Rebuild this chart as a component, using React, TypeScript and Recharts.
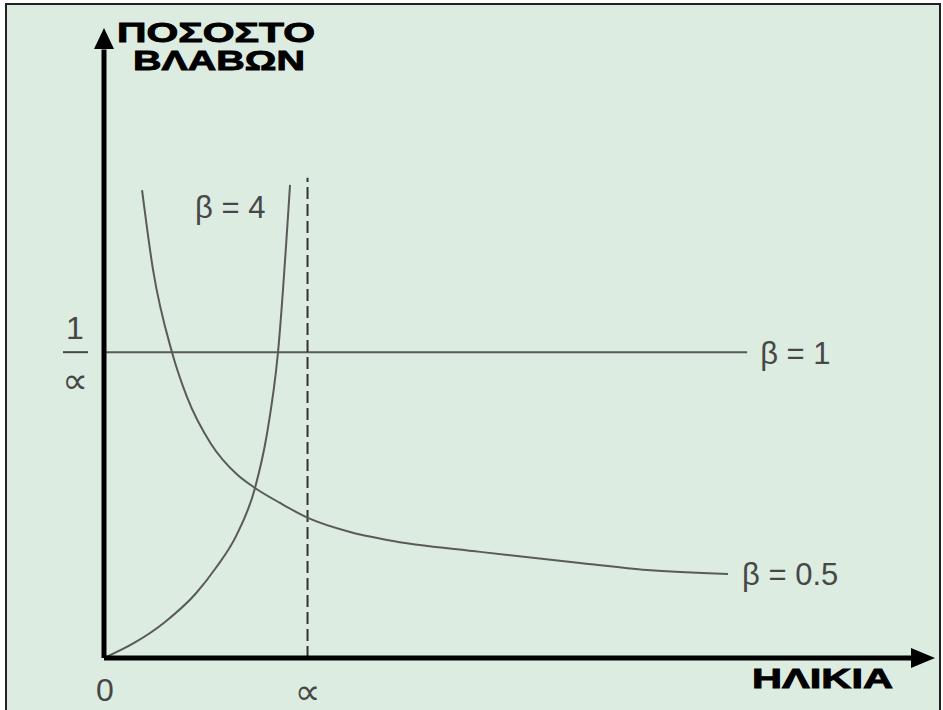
import React from 'react';
import {
  ComposedChart,
  Line,
  XAxis,
  YAxis,
  ReferenceLine,
  ReferenceDot,
} from 'recharts';

// age in units of alpha, failure rate in units of 1/alpha
const beta4Age = [0, 0.15, 0.3, 0.45, 0.55, 0.65, 0.742, 0.8, 0.855, 0.914];
const beta4Rate = [0, 0.05, 0.118, 0.21, 0.295, 0.4, 0.556, 0.73, 1.0, 1.547];

const beta05Age = [0.187, 0.241, 0.334, 0.408, 0.526, 0.654, 0.742, 0.865, 1.002, 1.209, 1.391, 1.848, 2.339, 2.668, 3.066];
const beta05Rate = [1.53, 1.269, 1.0, 0.853, 0.7, 0.6, 0.556, 0.507, 0.458, 0.412, 0.386, 0.347, 0.311, 0.288, 0.275];

const beta1Rate = 1;
const beta1End = 3.16;
const alphaAge = 1;
const alphaTop = 1.57;

const xMax = 4.083;
const yMax = 2.06;

const beta4Data = beta4Age.map((x, i) => ({ x, y: beta4Rate[i] }));
const beta05Data = beta05Age.map((x, i) => ({ x, y: beta05Rate[i] }));

const GREY = '#474747';
const CURVE = '#5a5a5a';

const labelFont = '"Liberation Sans", Arial, sans-serif';
const symbolFont = '"DejaVu Sans", sans-serif';

const UpArrow = (p: any) => (
  <polygon
    points={`${p.cx},${p.cy} ${p.cx - 10},${p.cy + 21} ${p.cx + 10},${p.cy + 21}`}
    fill="#000"
  />
);

const RightArrow = (p: any) => (
  <polygon
    points={`${p.cx},${p.cy} ${p.cx - 24},${p.cy - 10} ${p.cx - 24},${p.cy + 10}`}
    fill="#000"
  />
);

// text placed relative to a data point
const textAt = (
  text: string,
  dx: number,
  dy: number,
  opts: { size?: number; bold?: boolean; color?: string; anchor?: string; len?: number; family?: string } = {}
) =>
  (p: any) => (
    <text
      x={p.cx + dx}
      y={p.cy + dy}
      fontSize={opts.size ?? 30}
      fontWeight={opts.bold ? 700 : 400}
      fill={opts.color ?? GREY}
      stroke={opts.bold ? opts.color ?? GREY : undefined}
      strokeWidth={opts.bold ? 0.9 : undefined}
      fontFamily={opts.family ?? labelFont}
      textAnchor={opts.anchor ?? 'start'}
      dominantBaseline="central"
      textLength={opts.len}
      lengthAdjust={opts.len ? 'spacingAndGlyphs' : undefined}
    >
      {text}
    </text>
  );

const AlphaFraction = (p: any) => (
  <g>
    <text x={p.cx - 29} y={p.cy - 24} fontSize={32} fill={GREY} fontFamily={labelFont} textAnchor="middle" dominantBaseline="central">
      1
    </text>
    <line x1={p.cx - 41} x2={p.cx - 16} y1={p.cy} y2={p.cy} stroke={GREY} strokeWidth={2} />
    <text x={p.cx - 29} y={p.cy + 28} fontSize={36} fill={GREY} fontFamily={symbolFont} textAnchor="middle" dominantBaseline="central">
      ∝
    </text>
  </g>
);

export default function App() {
  return (
    <div style={{ position: 'absolute', left: 0, top: 0, width: 943, height: 710, background: '#fff', overflow: 'hidden' }}>
      <div
        style={{
          position: 'absolute',
          left: 5,
          top: 3,
          width: 936,
          height: 712,
          border: '2px solid #222',
          boxSizing: 'border-box',
          background: '#dcece1',
        }}
      />
      <div style={{ position: 'absolute', left: 0, top: 0 }}>
        <ComposedChart width={943} height={710} margin={{ top: 28, right: 8, bottom: 52, left: 104 }}>
          <XAxis type="number" dataKey="x" domain={[0, xMax]} hide allowDataOverflow />
          <YAxis type="number" dataKey="y" domain={[0, yMax]} hide allowDataOverflow />

          <ReferenceLine
            segment={[{ x: 0, y: beta1Rate }, { x: beta1End, y: beta1Rate }]}
            stroke={CURVE}
            strokeWidth={2}
          />
          <ReferenceLine
            segment={[{ x: alphaAge, y: 0 }, { x: alphaAge, y: alphaTop }]}
            stroke="#333"
            strokeWidth={2}
            strokeDasharray="12 5"
          />

          <Line data={beta4Data} dataKey="y" type="monotone" stroke={CURVE} strokeWidth={2} dot={false} isAnimationActive={false} />
          <Line data={beta05Data} dataKey="y" type="monotone" stroke={CURVE} strokeWidth={2} dot={false} isAnimationActive={false} />

          <ReferenceLine segment={[{ x: 0, y: 0 }, { x: 0, y: 1.99 }]} stroke="#000" strokeWidth={5} />
          <ReferenceLine segment={[{ x: 0, y: 0 }, { x: 3.99, y: 0 }]} stroke="#000" strokeWidth={5} />
          <ReferenceDot x={0} y={yMax} r={0} shape={UpArrow} />
          <ReferenceDot x={xMax} y={0} r={0} shape={RightArrow} />

          <ReferenceDot x={0} y={yMax} r={0} shape={textAt('ΠΟΣΟΣΤΟ', 13, 4, { bold: true, color: '#000', size: 28, len: 198 })} />
          <ReferenceDot x={0} y={yMax} r={0} shape={textAt('ΒΛΑΒΩΝ', 29, 32, { bold: true, color: '#000', size: 28, len: 172 })} />
          <ReferenceDot x={xMax} y={0} r={0} shape={textAt('ΗΛΙΚΙΑ', -183, 20, { bold: true, color: '#000', size: 28, len: 141 })} />

          <ReferenceDot x={0} y={0} r={0} shape={textAt('0', 1, 32, { anchor: 'middle', size: 32 })} />
          <ReferenceDot x={alphaAge} y={0} r={0} shape={textAt('∝', 0, 33, { anchor: 'middle', size: 36, family: symbolFont })} />
          <ReferenceDot x={0} y={beta1Rate} r={0} shape={AlphaFraction} />

          <ReferenceDot x={beta1End} y={beta1Rate} r={0} shape={textAt('β = 1', 13, 1, { size: 31 })} />
          <ReferenceDot x={beta05Age[beta05Age.length - 1]} y={beta05Rate[beta05Rate.length - 1]} r={0} shape={textAt('β = 0.5', 14, 1, { size: 31 })} />
          <ReferenceDot x={beta4Age[beta4Age.length - 1]} y={beta4Rate[beta4Rate.length - 1]} r={0} shape={textAt('β = 4', -95, 23, { size: 31 })} />
        </ComposedChart>
      </div>
    </div>
  );
}
